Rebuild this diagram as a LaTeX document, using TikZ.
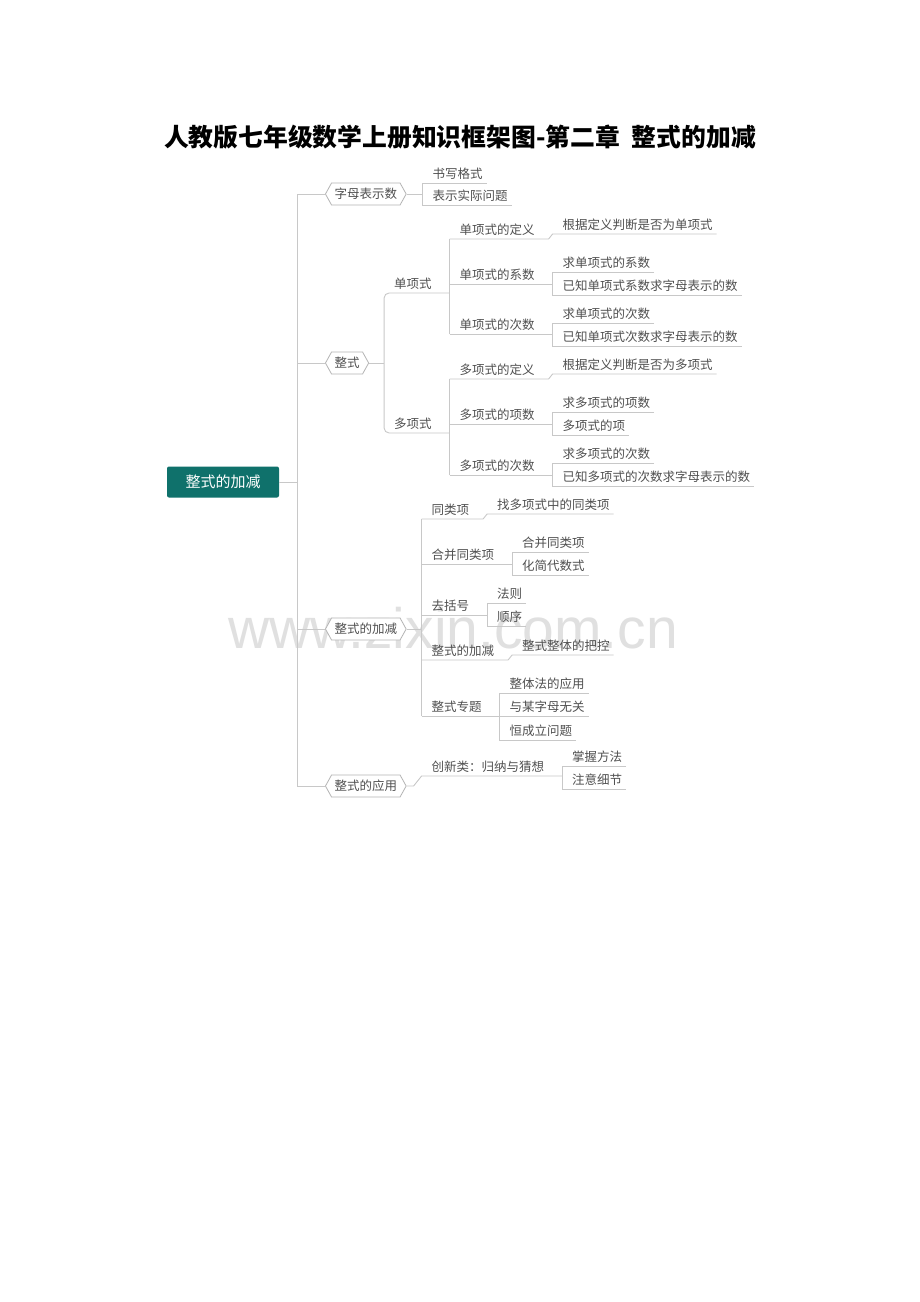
\documentclass[tikz,border=0pt]{standalone}
\usepackage{fontspec}
\usetikzlibrary{shapes.symbols,calc}
\newfontfamily\cjk{Noto Sans CJK SC}
\newfontfamily\wmfont{Liberation Sans}
\definecolor{lncol}{HTML}{C8C8C8}
\definecolor{txtcol}{HTML}{505050}
\definecolor{hexcol}{HTML}{B4B4B4}
\definecolor{rootcol}{HTML}{0F716B}
\definecolor{wmcol}{HTML}{E0E0E0}
\begin{document}
\begin{tikzpicture}[x=1pt,y=-1pt,
  conn/.style={draw=lncol, line width=0.9pt},
  lf/.style={anchor=south west, inner sep=0pt, outer sep=0pt, text height=9pt, text depth=4.25pt,
    font=\cjk\fontsize{12.5}{14}\selectfont, text=txtcol,
    execute at begin node={\hspace*{10pt}}, execute at end node={\hspace*{4pt}}},
  hexa/.style={signal, signal to=west and east, signal pointer angle=122, draw=hexcol, line width=0.8pt,
    fill=white, minimum height=22pt, inner xsep=3pt, inner ysep=0pt, anchor=west,
    font=\cjk\fontsize{12.5}{14}\selectfont, text=txtcol},
  rootbox/.style={rectangle, rounded corners=2pt, fill=rootcol, text=white, minimum width=112pt,
    minimum height=31pt, font=\cjk\fontsize{15}{18}\selectfont, inner sep=0pt}
]
\fill[white] (0,0) rectangle (920,1302);
\useasboundingbox (0,0) rectangle (920,1302);

% watermark
\node[anchor=base west, inner sep=0pt, text=wmcol, font=\wmfont\fontsize{57}{60}\selectfont] (wmk) at (228,648) {www.zixin.com.cn};

% title
\node[inner sep=0pt, font=\cjk\bfseries\fontsize{24.8}{28}\selectfont, text=black] (title) at (460,137)
  {人教版七年级数学上册知识框架图-第二章\hspace{12pt}整式的加减};

% root and level 1
\node[rootbox] (root) at (223,482) {整式的加减};
\coordinate (tk) at ([xshift=18pt]root.east);
\node[hexa] (h1) at (325,194) {字母表示数};
\node[hexa] (h2) at (325,363) {整式};
\node[hexa] (h3) at (325,629) {整式的加减};
\node[hexa] (h4) at (325,786) {整式的应用};
\draw[conn] (root.east) -- (tk);
\draw[conn] (h1.west) -- (h1.west -| tk) -- (h4.west -| tk) -- (h4.west);
\draw[conn] (h2.west) -- (h2.west -| tk);
\draw[conn] (h3.west) -- (h3.west -| tk);

% ---- 字母表示数
\coordinate (ka) at ([xshift=16pt]h1.east);
\node[lf] (a1) at (ka |- 0,183) {书写格式};
\node[lf] (a2) at (ka |- 0,205) {表示实际问题};
\draw[conn] (h1.east) -- (ka);
\draw[conn] (a1.south east) -- (a1.south west) -- (a2.south west) -- (a2.south east);

% ---- 整式
\coordinate (kb) at ([xshift=15pt]h2.east);
\node[lf] (b1) at (kb |- 0,293) {单项式};
\node[lf] (b2) at (kb |- 0,433) {多项式};
\coordinate (kb1) at ([xshift=14pt]b1.south east);
\coordinate (kb2) at ([xshift=14pt]b2.south east);
\draw[conn] (h2.east) -- (kb);
\draw[conn, rounded corners=5pt] (kb1) -- (b1.south west) -- (b2.south west) -- (kb2);

% 单项式
\node[lf] (b11) at (kb1 |- 0,239) {单项式的定义};
\node[lf] (b12) at (kb1 |- 0,284) {单项式的系数};
\node[lf] (b13) at (kb1 |- 0,334) {单项式的次数};
\draw[conn] (b11.south west) -- (b13.south west);
\coordinate (kb11) at ([xshift=14pt]b11.south east);
\node[lf] (b111) at (kb11 |- 0,234) {根据定义判断是否为单项式};
\draw[conn] (b11.south west) -- ([xshift=-4pt]kb11) -- (b111.south west) -- (b111.south east);
\coordinate (kb12) at ([xshift=14pt]b12.south east);
\node[lf] (b121) at (kb12 |- 0,272) {求单项式的系数};
\node[lf] (b122) at (kb12 |- 0,295) {已知单项式系数求字母表示的数};
\draw[conn] (b12.south west) -- (kb12);
\draw[conn] (b121.south east) -- (b121.south west) -- (b122.south west) -- (b122.south east);
\coordinate (kb13) at ([xshift=14pt]b13.south east);
\node[lf] (b131) at (kb13 |- 0,323) {求单项式的次数};
\node[lf] (b132) at (kb13 |- 0,346) {已知单项式次数求字母表示的数};
\draw[conn] (b13.south west) -- (kb13);
\draw[conn] (b131.south east) -- (b131.south west) -- (b132.south west) -- (b132.south east);

% 多项式
\node[lf] (b21) at (kb2 |- 0,379) {多项式的定义};
\node[lf] (b22) at (kb2 |- 0,424) {多项式的项数};
\node[lf] (b23) at (kb2 |- 0,475) {多项式的次数};
\draw[conn] (b21.south west) -- (b23.south west);
\coordinate (kb21) at ([xshift=14pt]b21.south east);
\node[lf] (b211) at (kb21 |- 0,374) {根据定义判断是否为多项式};
\draw[conn] (b21.south west) -- ([xshift=-4pt]kb21) -- (b211.south west) -- (b211.south east);
\coordinate (kb22) at ([xshift=14pt]b22.south east);
\node[lf] (b221) at (kb22 |- 0,412) {求多项式的项数};
\node[lf] (b222) at (kb22 |- 0,435) {多项式的项};
\draw[conn] (b22.south west) -- (kb22);
\draw[conn] (b221.south east) -- (b221.south west) -- (b222.south west) -- (b222.south east);
\coordinate (kb23) at ([xshift=14pt]b23.south east);
\node[lf] (b231) at (kb23 |- 0,463) {求多项式的次数};
\node[lf] (b232) at (kb23 |- 0,486) {已知多项式的次数求字母表示的数};
\draw[conn] (b23.south west) -- (kb23);
\draw[conn] (b231.south east) -- (b231.south west) -- (b232.south west) -- (b232.south east);

% ---- 整式的加减
\coordinate (kc) at ([xshift=15pt]h3.east);
\node[lf] (c1) at (kc |- 0,519) {同类项};
\node[lf] (c2) at (kc |- 0,564) {合并同类项};
\node[lf] (c3) at (kc |- 0,615) {去括号};
\node[lf] (c4) at (kc |- 0,660) {整式的加减};
\node[lf] (c5) at (kc |- 0,716) {整式专题};
\draw[conn] (h3.east) -- (kc);
\draw[conn] (c1.south west) -- (c5.south west);
\coordinate (kc1) at ([xshift=14pt]c1.south east);
\node[lf] (c11) at (kc1 |- 0,514) {找多项式中的同类项};
\draw[conn] (c1.south west) -- ([xshift=-4pt]kc1) -- (c11.south west) -- (c11.south east);
\coordinate (kc2) at ([xshift=14pt]c2.south east);
\node[lf] (c21) at (kc2 |- 0,552) {合并同类项};
\node[lf] (c22) at (kc2 |- 0,575) {化简代数式};
\draw[conn] (c2.south west) -- (kc2);
\draw[conn] (c21.south east) -- (c21.south west) -- (c22.south west) -- (c22.south east);
\coordinate (kc3) at ([xshift=14pt]c3.south east);
\node[lf] (c31) at (kc3 |- 0,603) {法则};
\node[lf] (c32) at (kc3 |- 0,626) {顺序};
\draw[conn] (c3.south west) -- (kc3);
\draw[conn] (c31.south east) -- (c31.south west) -- (c32.south west) -- (c32.south east);
\coordinate (kc4) at ([xshift=14pt]c4.south east);
\node[lf] (c41) at (kc4 |- 0,655) {整式整体的把控};
\draw[conn] (c4.south west) -- ([xshift=-4pt]kc4) -- (c41.south west) -- (c41.south east);
\coordinate (kc5) at ([xshift=14pt]c5.south east);
\node[lf] (c51) at (kc5 |- 0,693) {整体法的应用};
\node[lf] (c52) at (kc5 |- 0,716) {与某字母无关};
\node[lf] (c53) at (kc5 |- 0,740) {恒成立问题};
\draw[conn] (c5.south west) -- (kc5);
\draw[conn] (c51.south east) -- (c51.south west) -- (c53.south west) -- (c53.south east);
\draw[conn] (c52.south west) -- (c52.south east);

% ---- 整式的应用
\coordinate (kd) at ([xshift=15pt]h4.east);
\node[lf] (d1) at (kd |- 0,776) {创新类：归纳与猜想};
\coordinate (kd1) at ([xshift=14pt]d1.south east);
\draw[conn] (h4.east) -- ([xshift=-8pt]kd) -- (d1.south west) -- (kd1);
\node[lf] (d11) at (kd1 |- 0,766) {掌握方法};
\node[lf] (d12) at (kd1 |- 0,789) {注意细节};
\draw[conn] (d11.south east) -- (d11.south west) -- (d12.south west) -- (d12.south east);
\end{tikzpicture}
\end{document}
